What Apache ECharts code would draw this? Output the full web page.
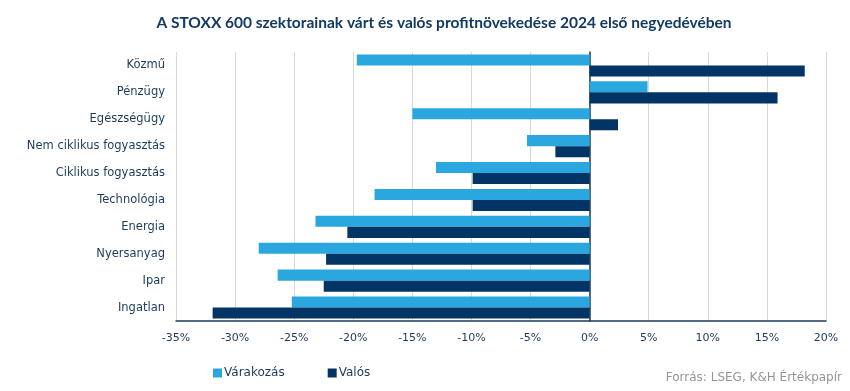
<!DOCTYPE html>
<html><head><meta charset="utf-8">
<script src="https://cdn.jsdelivr.net/npm/echarts@6/dist/echarts.min.js"></script>
<style>html,body{margin:0;padding:0;background:#fff}#c{width:850px;height:391px}</style>
</head><body><div id="c"></div>
<script>
const categories = ["Közmű","Pénzügy","Egészségügy","Nem ciklikus fogyasztás","Ciklikus fogyasztás","Technológia","Energia","Nyersanyag","Ipar","Ingatlan"];
const expected = [-19.7, 4.9, -15.0, -5.3, -13.0, -18.2, -23.2, -28.0, -26.4, -25.2];
const actual = [18.2, 15.9, 2.4, -2.9, -9.9, -9.9, -20.5, -22.3, -22.5, -31.9];
const seriesNames = ["Várakozás", "Valós"];
const titleText = "A STOXX 600 szektorainak várt és valós profitnövekedése 2024 első negyedévében";
const sourceText = "Forrás: LSEG, K&H Értékpapír";

const FONT = "DejaVu Sans";
const navy = "#1b3a5c";
const chart = echarts.init(document.getElementById('c'));
chart.setOption({
  animation: false,
  title: [{
    text: titleText, left: 439, top: 10, textAlign: 'center',
    textStyle: {fontFamily: "Lato", fontSize: 15.5, fontWeight: 'bold', color: '#123a63'}
  }],
  graphic: [{
    type: 'text', right: 8, top: 372,
    style: {text: sourceText, fontFamily: FONT, fontSize: 12, fill: '#959595'}
  }],
  legend: {
    left: 208, top: 362, itemWidth: 9, itemHeight: 9, itemGap: 43, icon: 'rect',
    textStyle: {fontFamily: FONT, fontSize: 12, color: navy, padding: [0,0,0,-3]}
  },
  grid: {left: 176, right: 24, top: 52, bottom: 70, containLabel: false},
  xAxis: {
    type: 'value', min: -35, max: 20, interval: 5,
    axisLabel: {formatter: '{value}%', fontFamily: FONT, fontSize: 11, color: navy, margin: 12},
    axisLine: {show: true, lineStyle: {color: '#1b3a5c', width: 1.5}},
    axisTick: {show: false},
    splitLine: {show: true, lineStyle: {color: '#d9d9d9', width: 1}}
  },
  yAxis: {
    type: 'category', data: categories, inverse: true,
    axisLabel: {fontFamily: FONT, fontSize: 11.5, color: navy, margin: 11},
    axisLine: {show: true, onZero: true, lineStyle: {color: '#1b3a5c', width: 1.5}},
    axisTick: {show: false}
  },
  series: [
    {name: seriesNames[0], type: 'bar', data: expected, itemStyle: {color: '#2aa7df'}, barGap: '0%', barCategoryGap: '18%'},
    {name: seriesNames[1], type: 'bar', data: actual, itemStyle: {color: '#023565'}, barGap: '0%', barCategoryGap: '18%'}
  ]
});
</script></body></html>
